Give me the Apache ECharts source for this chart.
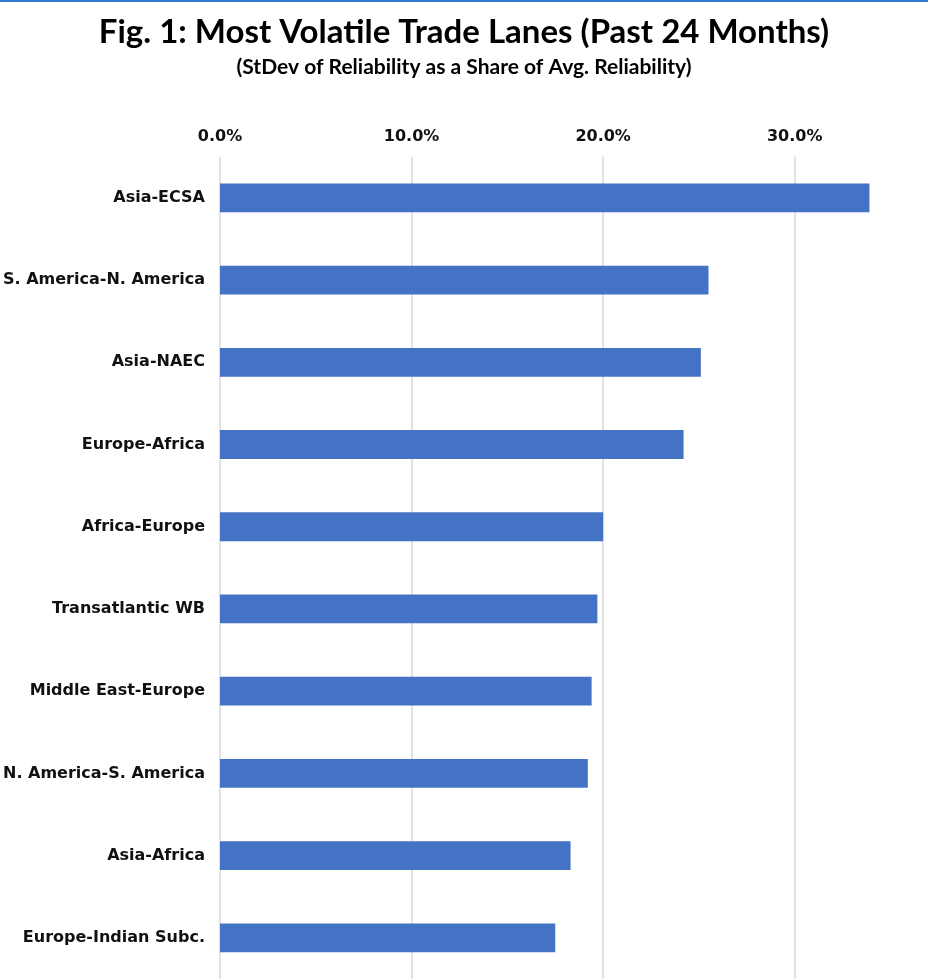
<!DOCTYPE html>
<html><head><meta charset="utf-8">
<script src="https://cdn.jsdelivr.net/npm/echarts@6/dist/echarts.min.js"></script>
<style>html,body{margin:0;padding:0;background:#fff}#c{width:928px;height:979px}</style>
</head><body><div id="c"></div>
<script>
const categories = ["Asia-ECSA","S. America-N. America","Asia-NAEC","Europe-Africa","Africa-Europe","Transatlantic WB","Middle East-Europe","N. America-S. America","Asia-Africa","Europe-Indian Subc."];
const values = [0.339,0.255,0.251,0.242,0.200,0.197,0.194,0.192,0.183,0.175];
const tickValues = [0,0.1,0.2,0.3];
const titleText = "Fig. 1: Most Volatile Trade Lanes (Past 24 Months)";
const subtitleText = "(StDev of Reliability as a Share of Avg. Reliability)";

const chart = echarts.init(document.getElementById('c'));
chart.setOption({
  backgroundColor:'#fff',
  animation:false,
  title:[
    {text:titleText, left:'center', top:11,
     textStyle:{fontFamily:'Lato', fontWeight:'bold', fontSize:33, color:'#000'}},
    {text:subtitleText, left:'center', top:52,
     textStyle:{fontFamily:'Lato', fontWeight:'bold', fontSize:21, color:'#000'}}
  ],
  graphic:[{type:'rect', shape:{x:0,y:0,width:928,height:2}, style:{fill:'#2b7bd3'}}],
  grid:{left:219.6, right:37.5, top:156.7, bottom:-3.8, containLabel:false},
  xAxis:{
    type:'value', position:'top', min:0, max:0.35, interval:0.1,
    axisLine:{show:false}, axisTick:{show:false},
    splitLine:{show:true, showMaxLine:false, lineStyle:{color:'#d9d9d9', width:1.5}},
    axisLabel:{showMaxLabel:false, margin:12, fontFamily:'DejaVu Sans', fontWeight:'bold', fontSize:16, color:'#111',
      formatter:v=> tickValues.some(t=>Math.abs(t-v)<1e-9) ? (v*100).toFixed(1)+'%' : ''}
  },
  yAxis:{
    type:'category', inverse:true, data:categories,
    axisLine:{show:false}, axisTick:{show:false},
    axisLabel:{margin:15, fontFamily:'DejaVu Sans', fontWeight:'bold', fontSize:16, color:'#111'}
  },
  series:[{type:'bar', data:values, barWidth:'35%', itemStyle:{color:'#4472C4'}}]
});
</script></body></html>
